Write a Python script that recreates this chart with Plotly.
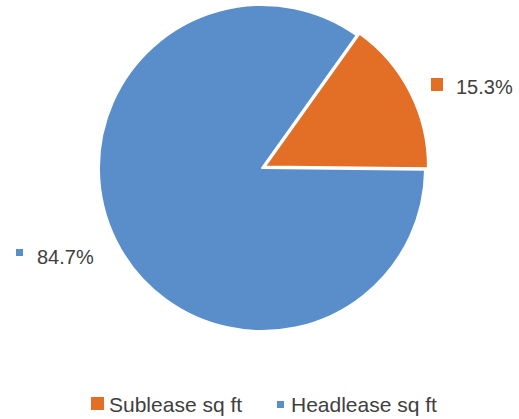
import plotly.graph_objects as go

labels = ["Sublease sq ft", "Headlease sq ft"]
values = [15.3, 84.7]
colors = ["#E36F26", "#5A8ECB"]

W, H = 519, 419

def px(x):
    return x / W

def py(y):
    return 1 - y / H

fig = go.Figure()
fig.add_trace(go.Pie(
    labels=labels,
    values=values,
    sort=False,
    direction="clockwise",
    rotation=35.5,
    pull=[0.02, 0],
    marker=dict(colors=colors, line=dict(color="white", width=2)),
    textinfo="none",
    hoverinfo="label+percent",
    showlegend=False,
    domain=dict(x=[px(262 - 166.3), px(262 + 166.3)], y=[py(168 + 166.3), py(168 - 166.3)]),
))

total = sum(values)
pcts = [f"{v / total * 100:.1f}%" for v in values]

font = dict(family="Liberation Sans, Arial, sans-serif", size=20, color="#404040")
legend_font = dict(family="Liberation Sans, Arial, sans-serif", size=21, color="#404040")

shapes = []
annotations = []

# data labels with keys
label_pos = [  # (square box px, text left px, text center y px)
    ((431, 78, 443, 91), 454, 87),
    ((16, 249, 23, 256), 35, 257),
]
for i, ((x0, y0, x1, y1), tx, ty) in enumerate(label_pos):
    shapes.append(dict(type="rect", xref="paper", yref="paper",
                       x0=px(x0), x1=px(x1), y0=py(y1), y1=py(y0),
                       fillcolor=colors[i], line=dict(width=0)))
    annotations.append(dict(text=pcts[i], xref="paper", yref="paper",
                            x=px(tx), y=py(ty), xanchor="left", yanchor="middle",
                            showarrow=False, font=font))

# legend
legend_pos = [
    ((91, 397, 104, 410), 107, 404),
    ((277, 401, 284, 408), 289, 404),
]
for i, ((x0, y0, x1, y1), tx, ty) in enumerate(legend_pos):
    shapes.append(dict(type="rect", xref="paper", yref="paper",
                       x0=px(x0), x1=px(x1), y0=py(y1), y1=py(y0),
                       fillcolor=colors[i], line=dict(width=0)))
    annotations.append(dict(text=labels[i], xref="paper", yref="paper",
                            x=px(tx), y=py(ty), xanchor="left", yanchor="middle",
                            showarrow=False, font=legend_font))

fig.update_layout(
    width=W, height=H,
    margin=dict(l=0, r=0, t=0, b=0),
    paper_bgcolor="white",
    plot_bgcolor="white",
    shapes=shapes,
    annotations=annotations,
    showlegend=False,
)

fig.write_html("out.html")
